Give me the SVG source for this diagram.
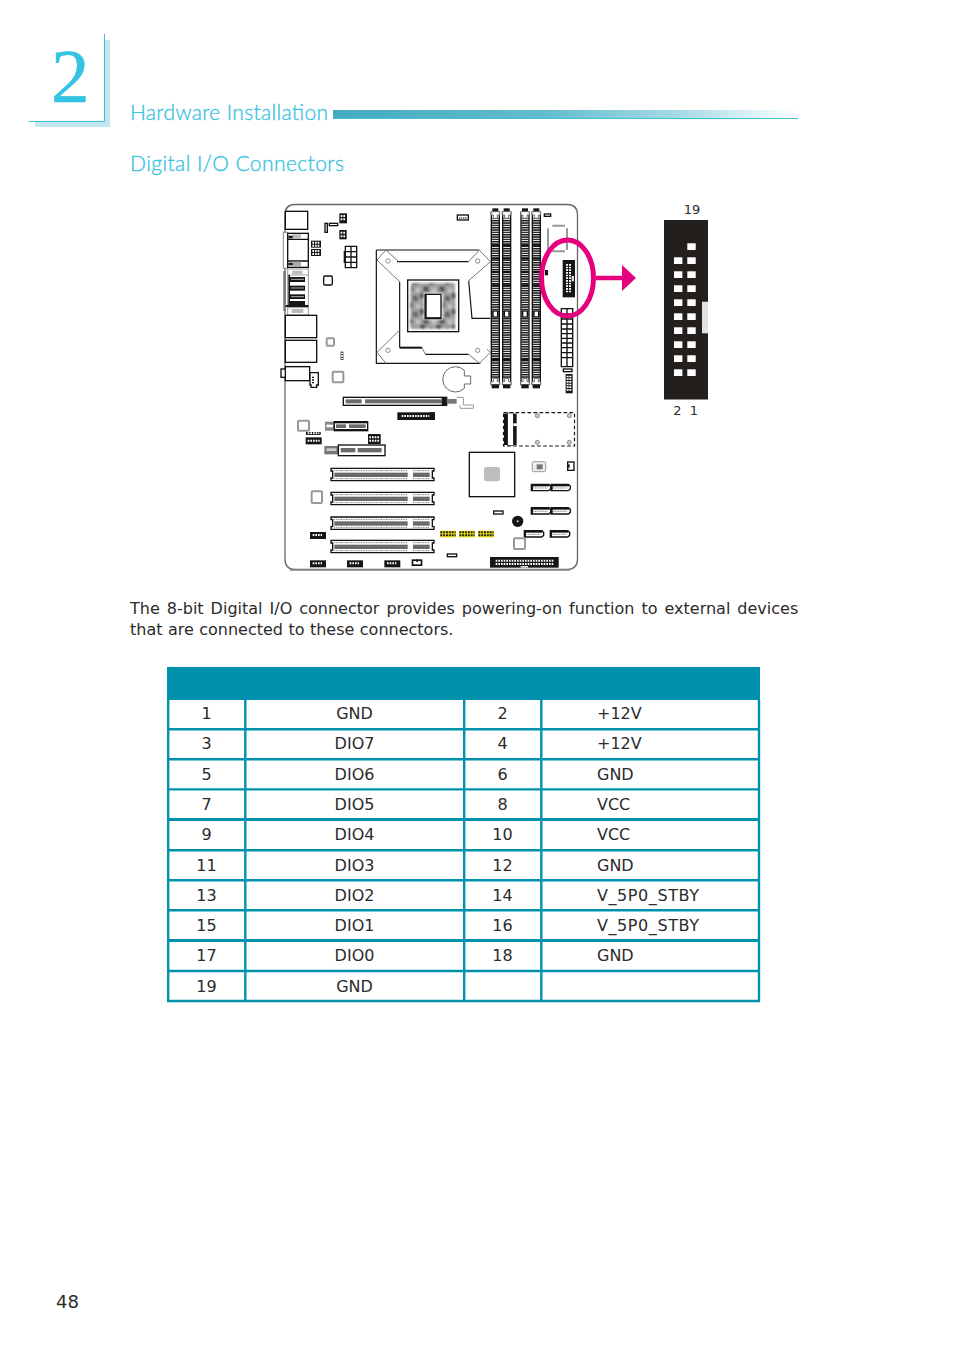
<svg xmlns="http://www.w3.org/2000/svg" width="954" height="1350" viewBox="0 0 954 1350">
<style>
.h{font-family:"Lato","Open Sans",sans-serif;fill:#3cc3e2;font-weight:300;stroke:#3cc3e2;stroke-width:.35}
.b{font-family:"DejaVu Sans",Verdana,sans-serif;fill:#2b2b2b;font-size:16px}
.c{text-anchor:middle}
.k{fill:none;stroke:#111;stroke-width:4}
.w{fill:#fff;stroke:#111;stroke-width:4}
.g{fill:none;stroke:#999;stroke-width:6}
.bk{fill:#151515}
.gb{fill:#6a6a6a}
.pin{fill:none;stroke:#fff;stroke-width:6;stroke-dasharray:5 3}
.pd{fill:none;stroke:#777;stroke-width:3;stroke-dasharray:3 2}
.tl{stroke:#0092ad;stroke-width:2.4;fill:none}
</style>
<defs>
<linearGradient id="bar" x1="0" x2="1" y1="0" y2="0"><stop offset="0" stop-color="#43abc0"/><stop offset=".45" stop-color="#62bccd"/><stop offset=".75" stop-color="#a8dbe6"/><stop offset="1" stop-color="#fff"/></linearGradient>
<pattern id="lad" width="10" height="7" patternUnits="userSpaceOnUse"><rect width="10" height="4.200" fill="#111"/></pattern>
<pattern id="mos" width="48" height="48" patternUnits="userSpaceOnUse"><rect width="48" height="48" fill="#a0a0a0"/><rect width="16" height="16" fill="#444"/><rect x="26" y="8" width="16" height="16" fill="#666"/><rect x="10" y="28" width="16" height="16" fill="#555"/><rect x="36" y="34" width="12" height="12" fill="#c8c8c8"/></pattern>
<filter id="soft" x="-10%" y="-10%" width="120%" height="120%"><feGaussianBlur stdDeviation="2.500"/></filter>
<g id="dimm">
<rect x="2" y="12" width="24" height="516" class="w"/>
<rect x="3" y="30" width="22" height="480" fill="url(#lad)"/>
<rect x="3" y="108" width="22" height="6" fill="#111"/><rect x="3" y="148" width="22" height="6" fill="#111"/><rect x="3" y="188" width="22" height="6" fill="#111"/><rect x="3" y="228" width="22" height="6" fill="#111"/><rect x="3" y="450" width="22" height="6" fill="#111"/>
<rect x="7" y="308" width="14" height="18" fill="#fff" stroke="#111" stroke-width="4"/>
<rect x="5" y="0" width="18" height="10" class="bk"/><path d="M1 10H27V20H20V30H8V20H1Z" fill="#fff" stroke="#666" stroke-width="3"/>
<path d="M1 530H27V520H20V510H8V520H1Z" fill="#fff" stroke="#666" stroke-width="3"/><rect x="3" y="528" width="22" height="12" class="bk"/>
</g>
<g id="pci">
<path d="M0 0H309V8H304V29H309V37H0V29H5V8H0Z" class="w"/>
<rect x="10" y="13" width="220" height="13" class="gb"/><rect x="246" y="13" width="50" height="13" class="gb"/>
<path d="M10 7H230M246 7H296M10 31H230M246 31H296" class="pd"/>
</g>
<g id="hdr"><rect width="48" height="21" class="bk"/><path d="M8 9H36" class="pin" stroke-dasharray="3 2" stroke-width="5"/></g>
<g id="sata"><path d="M0 0H52L58 5V14L52 19H0Z" class="w"/><rect x="2" y="0" width="52" height="6" class="bk"/><path d="M6 11H48" stroke="#777" stroke-width="3" stroke-dasharray="3 2"/><rect y="0" width="5" height="19" class="bk"/></g>
<g id="ygh"><rect width="48" height="20" fill="#f2e60a"/><path d="M1 5H47M1 14H47" stroke="#222" stroke-width="6" stroke-dasharray="6 2.500" fill="none"/></g>
</defs>

<g id="page-header">
<rect x="105" y="40" width="5" height="87" fill="#c3e6f0"/><rect x="35" y="122" width="75" height="5" fill="#c3e6f0"/>
<path d="M104.500 34V121.500H29" fill="none" stroke="#34c3e3" stroke-width="1"/>
<text x="51" y="102" font-family="Liberation Serif,serif" font-size="77" fill="#34c3e3" stroke="#34c3e3" stroke-width=".5">2</text>
<text x="130" y="120" class="h" font-size="21" textLength="198">Hardware Installation</text>
<rect x="333" y="110" width="465" height="8" fill="url(#bar)"/><rect x="333" y="118" width="465" height="1" fill="#4ac0d8"/>
<text x="130" y="171" class="h" font-size="21" textLength="214">Digital I/O Connectors</text>
</g>

<g id="mainboard">
<path d="M295 204.500H567Q577.500 204.500 577.500 215V559Q577.500 569.500 567 569.500H295Q285 569.500 285 559V215Q285 204.500 295 204.500Z" fill="#fff" stroke="#666" stroke-width="1.300"/>
<path d="M290 570H570" stroke="#888" stroke-width="1.500"/>

<g id="top-left" transform="translate(275 195) scale(.33333)">
<rect x="31" y="49" width="67" height="54" class="w"/>
<rect x="193" y="55" width="23" height="30" class="bk"/><path d="M197 63H212M197 73H212" class="pin" stroke-width="5" stroke-dasharray="6 2"/>
<rect x="193" y="105" width="22" height="28" class="bk"/><path d="M197 113H211M197 124H211" class="pin" stroke-width="5" stroke-dasharray="5 2"/>
<rect x="163" y="85" width="25" height="7" class="w" stroke-width="3"/><rect x="150" y="85" width="7" height="27" class="w" stroke-width="3"/>
<rect x="108" y="137" width="30" height="21" class="bk"/><path d="M112 143H135M112 152H135" class="pin" stroke-width="5" stroke-dasharray="7 2"/>
<rect x="108" y="162" width="30" height="21" class="bk"/><path d="M112 168H135M112 177H135" class="pin" stroke-width="5" stroke-dasharray="7 2"/>
<path d="M211 154H245V218H211ZM228 154V218M211 170H245M211 186H245M211 202H245" class="w" stroke-width="3"/><rect x="206" y="168" width="5" height="36" class="bk"/>
<rect x="146" y="243" width="26" height="27" rx="4" class="w" stroke-width="3"/>
<rect x="155" y="430" width="22" height="22" rx="3" class="g" stroke-width="4"/>
<rect x="197" y="470" width="8" height="25" class="bk"/><path d="M201 473V493" class="pin" stroke-width="4" stroke-dasharray="4 3"/>
<rect x="173" y="530" width="32" height="32" rx="3" class="g"/>
<rect x="25" y="112" width="13" height="108" fill="#fff" stroke="#888" stroke-width="3"/>
<rect x="38" y="115" width="62" height="102" class="w"/><path d="M38 133H100M38 198H100" class="k" stroke-width="3"/>
<rect x="52" y="118" width="26" height="13" fill="#bbb"/><rect x="52" y="200" width="26" height="14" fill="#aaa"/><rect x="40" y="122" width="13" height="8" class="bk"/><rect x="40" y="203" width="13" height="8" class="bk"/>
<rect x="25" y="228" width="7" height="120" fill="#777"/>
<rect x="38" y="222" width="62" height="138" fill="#fff" stroke="#999" stroke-width="3"/><path d="M38 240H100M38 338H100" stroke="#999" stroke-width="3"/>
<rect x="52" y="227" width="30" height="10" fill="#bbb"/><rect x="50" y="342" width="35" height="12" fill="#bbb"/>
<rect x="45" y="246" width="45" height="15" class="bk"/><rect x="45" y="272" width="45" height="15" class="bk"/><rect x="45" y="298" width="45" height="14" class="bk"/><rect x="45" y="318" width="45" height="13" class="bk"/>
<path d="M48 253H87M48 279H87M48 305H87" stroke="#fff" stroke-width="2"/>
<rect x="32" y="330" width="68" height="6" class="bk"/><rect x="40" y="240" width="5" height="95" class="bk"/>
<rect x="31" y="361" width="94" height="67" class="w"/><rect x="31" y="436" width="94" height="66" class="w"/>
<rect x="31" y="515" width="73" height="42" class="w"/><rect x="18" y="522" width="13" height="25" class="w"/>
<path d="M105 533H130V570H125V577H108V570H105Z" class="w"/><path d="M114 545V567" stroke="#111" stroke-width="6" stroke-dasharray="4 4"/>
</g>

<g id="cpu-socket" transform="translate(372 245) scale(.33333)">
<path d="M13 15H322M13 15V355H325M75 50H290M290 107L300 220H355M83 110V308M160 328H290" fill="none" stroke="#111" stroke-width="3.500"/>
<path d="M15 45L42 15 80 50M15 45L83 110M83 255L15 322 42 355M290 50L322 15 355 50 290 107M290 328L322 355 355 322 345 312M150 308L160 328" fill="none" stroke="#777" stroke-width="3"/>
<path d="M83 308H150" stroke="#111" stroke-width="6"/>
<rect x="107" y="105" width="153" height="155" fill="#fff" stroke="#111" stroke-width="4"/>
<g filter="url(#soft)"><rect x="117" y="114" width="132" height="30" fill="url(#mos)"/><rect x="115" y="144" width="40" height="80" fill="url(#mos)"/><rect x="212" y="144" width="38" height="80" fill="url(#mos)"/><rect x="115" y="224" width="134" height="27" fill="url(#mos)"/></g>
<rect x="160" y="148" width="47" height="72" fill="#fff" stroke="#111" stroke-width="4"/>
<path d="M161 148V220H207" fill="none" stroke="#111" stroke-width="6"/>
<g fill="#fff" stroke="#777" stroke-width="2.500"><circle cx="48" cy="48" r="6.500"/><circle cx="317" cy="48" r="6.500"/><circle cx="48" cy="316" r="6.500"/><circle cx="317" cy="316" r="6.500"/></g>
</g>

<g id="top-right" transform="translate(430 195) scale(.33333)">
<rect x="82" y="60" width="33" height="15" class="w"/><path d="M88 69H110" stroke="#111" stroke-width="4" stroke-dasharray="3 3"/>
<use href="#dimm" x="182" y="40"/><use href="#dimm" x="216" y="40"/><use href="#dimm" x="271" y="40"/><use href="#dimm" x="305" y="40"/>
<rect x="343" y="57" width="19" height="7" class="w" stroke-width="3"/>
<path d="M354 100V170M367 92H405M367 169H405M411 100V165" class="g" stroke-width="7"/>
<rect x="345" y="225" width="9" height="16" class="bk"/>
<path d="M394 341H428V515H394ZM411 341V515M394 357H428M394 372H428M394 387H428M394 402H428M394 416H428M394 430H428M394 444H428M394 458H428M394 473H428M394 488H428" class="w" stroke-width="3"/>
<rect x="400" y="522" width="26" height="8" class="w" stroke-width="3"/>
<rect x="407" y="537" width="21" height="58" class="bk"/><path d="M413 542V590M421 542V590" class="pin" stroke-width="5" stroke-dasharray="4 3"/>
<path d="M103 526A38 38 0 1 0 103 580V567H122V543H103Z" fill="#fff" stroke="#666" stroke-width="3"/>
<rect x="398" y="195" width="37" height="112" class="bk"/><path d="M411 207V292M420 207V292" class="pin" stroke-width="6" stroke-dasharray="5 3"/><rect x="425" y="243" width="7" height="16" fill="#ddd"/>
</g>

<g id="lower-left" transform="translate(275 390) scale(.33333)">
<rect x="205" y="22" width="310" height="24" class="w"/><rect x="212" y="28" width="48" height="12" class="gb"/><rect x="270" y="28" width="230" height="12" class="gb"/>
<rect x="367" y="67" width="113" height="23" class="bk"/><path d="M380 78H465" class="pin" stroke-width="9" stroke-dasharray="3 2.500"/>
<rect x="69" y="92" width="33" height="30" rx="3" class="g"/>
<rect x="93" y="126" width="44" height="9" class="bk"/><path d="M98 130H133" class="pin" stroke-width="4" stroke-dasharray="3 2"/>
<rect x="92" y="142" width="48" height="21" class="bk"/><path d="M98 152H134" class="pin" stroke-width="11" stroke-dasharray="5 3"/>
<rect x="150" y="95" width="28" height="27" fill="#888"/><rect x="154" y="104" width="20" height="8" fill="#fff"/>
<rect x="178" y="95" width="100" height="27" class="w"/><rect x="183" y="103" width="30" height="11" class="gb"/><rect x="222" y="103" width="50" height="11" class="gb"/><rect x="178" y="95" width="100" height="5" class="bk"/><rect x="178" y="117" width="100" height="5" class="bk"/>
<rect x="279" y="132" width="38" height="30" class="bk"/><path d="M283 142H313M283 152H313" class="pin" stroke-width="6" stroke-dasharray="5 2"/>
<rect x="148" y="168" width="42" height="25" fill="#777"/><rect x="154" y="175" width="30" height="8" fill="#ccc"/>
<rect x="190" y="165" width="140" height="32" class="w"/><rect x="197" y="174" width="44" height="13" class="gb"/><rect x="248" y="174" width="72" height="13" class="gb"/>
<use href="#pci" x="168" y="235"/><use href="#pci" x="168" y="307"/><use href="#pci" x="168" y="381"/><use href="#pci" x="168" y="451"/>
<rect x="110" y="304" width="31" height="35" rx="3" class="g"/>
<use href="#hdr" x="105" y="426"/><use href="#hdr" x="105" y="511"/><use href="#hdr" x="216" y="511"/><use href="#hdr" x="328" y="511"/>
<rect x="410" y="508" width="32" height="20" class="bk"/><rect x="415" y="513" width="22" height="10" fill="#fff"/><rect x="424" y="508" width="5" height="8" fill="#111"/>
</g>

<g id="lower-right" transform="translate(430 390) scale(.33333)">
<rect x="35" y="22" width="15" height="24" class="bk"/><rect x="50" y="27" width="30" height="14" fill="#777"/><path d="M80 22H100V45H130V55H90V46" fill="#fff" stroke="#999" stroke-width="3"/>
<rect x="-2" y="67" width="17" height="23" class="bk"/>
<rect x="220.500" y="68" width="213" height="100" fill="none" stroke="#111" stroke-width="3.500" stroke-dasharray="11 7"/>
<rect x="222" y="71" width="38" height="94" class="bk"/><rect x="233" y="69" width="17" height="97" fill="#fff" stroke="#111" stroke-width="2"/>
<rect x="250" y="100" width="12" height="8" fill="#fff"/>
<g fill="#ccc" stroke="#888" stroke-width="3"><circle cx="322" cy="77" r="6"/><circle cx="418" cy="77" r="6"/><circle cx="322" cy="157" r="6"/><circle cx="418" cy="157" r="6"/></g>
<rect x="118" y="187" width="136" height="133" class="w"/><rect x="162" y="231" width="48" height="43" rx="6" fill="#bdbdbd"/>
<rect x="307" y="215" width="40" height="30" rx="3" fill="#eee" stroke="#999" stroke-width="3"/><rect x="320" y="223" width="18" height="15" fill="#777"/>
<rect x="413" y="216" width="19" height="25" class="w"/><rect x="413" y="223" width="6" height="10" class="bk"/>
<use href="#sata" x="304" y="283"/><use href="#sata" x="363" y="283"/><use href="#sata" x="304" y="353"/><use href="#sata" x="363" y="353"/><use href="#sata" x="283" y="422"/><use href="#sata" x="361" y="422"/>
<rect x="191" y="363" width="28" height="9" class="w" stroke-width="3"/><rect x="52" y="492" width="28" height="8" class="w" stroke-width="3"/>
<circle cx="263" cy="394" r="17" class="bk"/><circle cx="263" cy="394" r="3" fill="#ddd"/>
<use href="#ygh" x="30" y="422"/><use href="#ygh" x="87" y="422"/><use href="#ygh" x="144" y="422"/>
<rect x="252" y="445" width="33" height="32" rx="3" class="g"/>
<rect x="180" y="501" width="206" height="32" class="bk"/><path d="M197 512H370M197 522H370" class="pin" stroke-width="6" stroke-dasharray="4 2"/><rect x="272" y="528" width="22" height="5" fill="#ddd"/>
</g>

<ellipse cx="567.500" cy="278" rx="26" ry="38" fill="none" stroke="#e5007e" stroke-width="5"/>
<path d="M596 278H623" stroke="#e5007e" stroke-width="4.500"/><path d="M622 265L636 278 622 291Z" fill="#e5007e"/>
</g>

<g id="dio-header">
<rect x="664" y="220" width="44" height="179.500" fill="#231f1c"/><rect x="702" y="301.700" width="6" height="31.600" fill="#e2e2e2"/>
<g fill="#fff"><rect x="687.300" y="243.300" width="8.400" height="6.700"/>
<rect x="674" y="257.300" width="8.400" height="6.700"/><rect x="687.300" y="257.300" width="8.400" height="6.700"/><rect x="674" y="271.300" width="8.400" height="6.700"/><rect x="687.300" y="271.300" width="8.400" height="6.700"/><rect x="674" y="285.300" width="8.400" height="6.700"/><rect x="687.300" y="285.300" width="8.400" height="6.700"/><rect x="674" y="299.300" width="8.400" height="6.700"/><rect x="687.300" y="299.300" width="8.400" height="6.700"/><rect x="674" y="313.300" width="8.400" height="6.700"/><rect x="687.300" y="313.300" width="8.400" height="6.700"/><rect x="674" y="327.300" width="8.400" height="6.700"/><rect x="687.300" y="327.300" width="8.400" height="6.700"/><rect x="674" y="341.300" width="8.400" height="6.700"/><rect x="687.300" y="341.300" width="8.400" height="6.700"/><rect x="674" y="355.300" width="8.400" height="6.700"/><rect x="687.300" y="355.300" width="8.400" height="6.700"/><rect x="674" y="369.300" width="8.400" height="6.700"/><rect x="687.300" y="369.300" width="8.400" height="6.700"/></g>
<text x="692" y="214" class="b c" style="font-size:13px">19</text>
<text x="677.500" y="415" class="b c" style="font-size:13px">2</text><text x="694" y="415" class="b c" style="font-size:13px">1</text>
</g>

<g id="body-text">
<text x="130" y="614" class="b" word-spacing="1.930">The 8-bit Digital I/O connector provides powering-on function to external devices</text>
<text x="130" y="635" class="b" word-spacing=".35">that are connected to these connectors.</text>
</g>

<g id="pin-table">
<rect x="167" y="667" width="593" height="33" fill="#0092ad"/>
<path class="tl" d="M168.200 699V1001M245.300 699V1001M464.200 699V1001M541.300 699V1001M759 699V1001M167 729.300H760M167 759.300H760M167 789.400H760M167 850.200H760M167 880.300H760M167 910.300H760M167 971H760M167 1001H760"/>
<path class="tl" style="stroke-width:3" d="M167 819.500H760M167 940.500H760"/>
<g class="b c">
<text x="206.500" y="719">1</text><text x="354.500" y="719">GND</text><text x="502.500" y="719">2</text>
<text x="206.500" y="749">3</text><text x="354.500" y="749">DIO7</text><text x="502.500" y="749">4</text>
<text x="206.500" y="780">5</text><text x="354.500" y="780">DIO6</text><text x="502.500" y="780">6</text>
<text x="206.500" y="810">7</text><text x="354.500" y="810">DIO5</text><text x="502.500" y="810">8</text>
<text x="206.500" y="840">9</text><text x="354.500" y="840">DIO4</text><text x="502.500" y="840">10</text>
<text x="206.500" y="871">11</text><text x="354.500" y="871">DIO3</text><text x="502.500" y="871">12</text>
<text x="206.500" y="901">13</text><text x="354.500" y="901">DIO2</text><text x="502.500" y="901">14</text>
<text x="206.500" y="931">15</text><text x="354.500" y="931">DIO1</text><text x="502.500" y="931">16</text>
<text x="206.500" y="961">17</text><text x="354.500" y="961">DIO0</text><text x="502.500" y="961">18</text>
<text x="206.500" y="992">19</text><text x="354.500" y="992">GND</text>
</g>
<g class="b">
<text x="597" y="719">+12V</text><text x="597" y="749">+12V</text><text x="597" y="780">GND</text><text x="597" y="810">VCC</text><text x="597" y="840">VCC</text><text x="597" y="871">GND</text><text x="597" y="901" textLength="102">V_5P0_STBY</text><text x="597" y="931" textLength="102">V_5P0_STBY</text><text x="597" y="961">GND</text>
</g>
</g>

<text x="56" y="1308" class="b" style="font-size:18px">48</text>
</svg>
